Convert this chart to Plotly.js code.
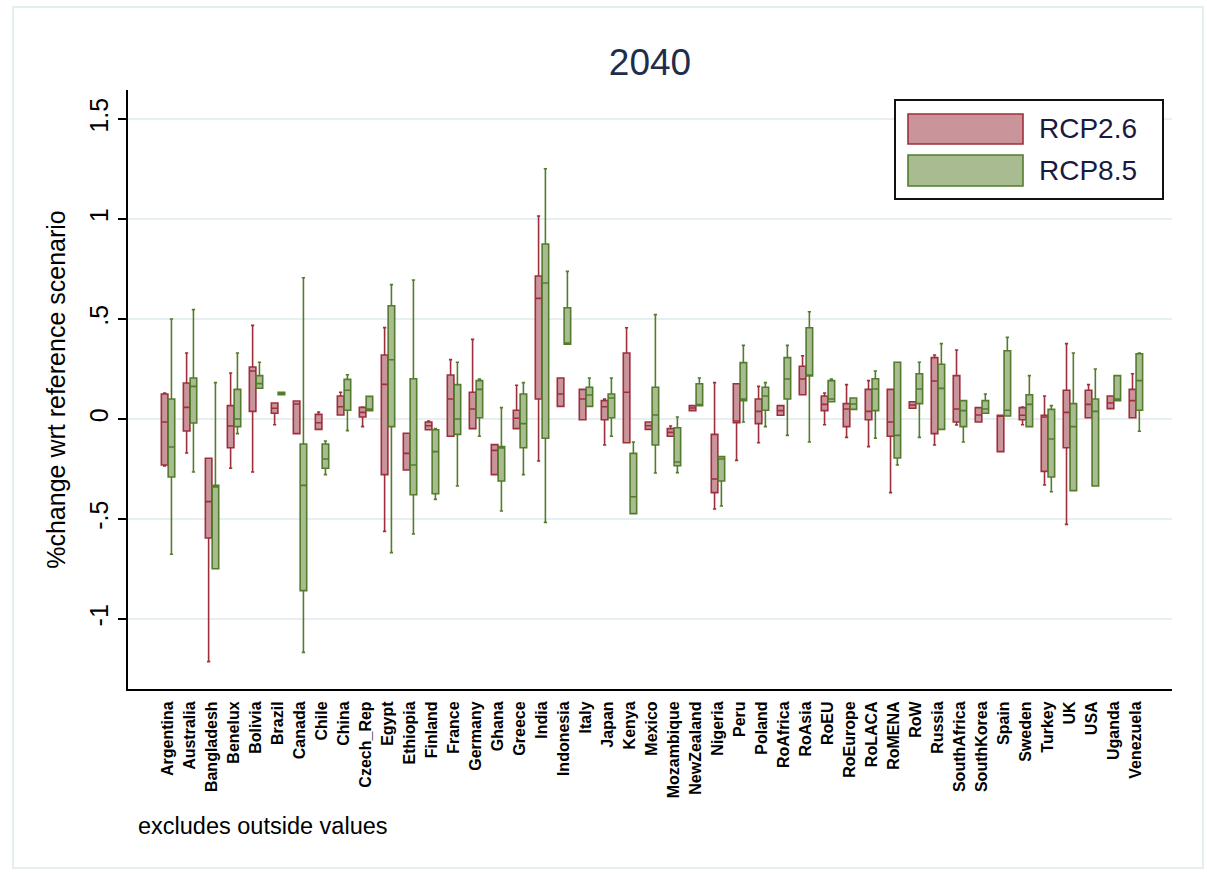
<!DOCTYPE html>
<html>
<head>
<meta charset="utf-8">
<script src="https://cdn.plot.ly/plotly-3.0.1.min.js"></script>
<style>html,body{margin:0;padding:0;background:#fff;}#chart{width:1207px;height:873px;}</style>
</head>
<body>
<div id="chart"></div>
<script>
var countries = ["Argentina","Australia","Bangladesh","Benelux","Bolivia","Brazil","Canada","Chile","China","Czech_Rep","Egypt","Ethiopia","Finland","France","Germany","Ghana","Greece","India","Indonesia","Italy","Japan","Kenya","Mexico","Mozambique","NewZealand","Nigeria","Peru","Poland","RoAfrica","RoAsia","RoEU","RoEurope","RoLACA","RoMENA","RoW","Russia","SouthAfrica","SouthKorea","Spain","Sweden","Turkey","UK","USA","Uganda","Venezuela"];

// RCP2.6
var rcp26_lo  = [-0.235,-0.17,-1.213,-0.246,-0.265,-0.029,-0.073,-0.052,0.02,-0.038,-0.562,-0.255,-0.054,-0.086,-0.048,-0.278,-0.048,-0.21,0.063,-0.004,-0.13,-0.119,-0.052,-0.086,0.042,-0.45,-0.207,-0.119,0.019,0.121,-0.029,-0.092,-0.138,-0.368,0.054,-0.13,-0.03,-0.015,-0.163,-0.029,-0.33,-0.527,0.006,0.052,0.006];
var rcp26_q1  = [-0.23,-0.06,-0.595,-0.144,0.038,0.029,-0.073,-0.052,0.02,0.01,-0.278,-0.255,-0.054,-0.086,-0.048,-0.278,-0.048,0.1,0.063,-0.004,-0.004,-0.119,-0.052,-0.086,0.042,-0.368,-0.019,-0.023,0.019,0.121,0.042,-0.038,-0.004,-0.086,0.054,-0.073,-0.015,-0.015,-0.163,-0.004,-0.262,-0.144,0.006,0.052,0.006];
var rcp26_med = [-0.015,0.058,-0.413,-0.035,0.24,0.054,0.075,-0.019,0.061,0.033,0.173,-0.172,-0.034,0.1,0.05,-0.157,0.004,0.603,0.125,0.1,0.061,0.134,-0.034,-0.067,0.055,-0.3,-0.01,0.038,0.042,0.2,0.073,0.05,0.038,-0.015,0.07,0.19,0.05,0.02,0.015,0.019,0.01,0.033,0.073,0.08,0.092];
var rcp26_q3  = [0.125,0.18,-0.196,0.067,0.26,0.08,0.09,0.023,0.115,0.058,0.32,-0.071,-0.015,0.22,0.134,-0.128,0.044,0.715,0.205,0.148,0.092,0.33,-0.015,-0.048,0.067,-0.077,0.176,0.1,0.067,0.264,0.115,0.077,0.148,0.148,0.086,0.307,0.217,0.057,0.019,0.057,0.019,0.144,0.144,0.115,0.148];
var rcp26_hi  = [0.13,0.33,-0.196,0.23,0.468,0.08,0.09,0.035,0.134,0.06,0.457,-0.071,-0.01,0.297,0.398,-0.128,0.169,1.015,0.205,0.148,0.1,0.456,-0.015,-0.035,0.067,0.182,0.176,0.163,0.067,0.316,0.13,0.172,0.192,0.148,0.086,0.32,0.345,0.057,0.019,0.06,0.115,0.377,0.172,0.115,0.226];

// RCP8.5
var rcp85_lo  = [-0.676,-0.265,-0.749,-0.073,0.154,0.122,-1.167,-0.278,-0.058,0.042,-0.668,-0.575,-0.402,-0.335,-0.086,-0.46,-0.278,-0.517,0.374,0.063,-0.086,-0.473,-0.27,-0.268,0.067,-0.435,-0.015,-0.038,-0.082,-0.115,0.086,0.048,-0.096,-0.23,-0.092,-0.052,-0.115,0.029,0.015,-0.038,-0.364,-0.358,-0.335,0.092,-0.061];
var rcp85_q1  = [-0.29,-0.02,-0.749,-0.038,0.154,0.122,-0.858,-0.246,0.044,0.042,-0.038,-0.379,-0.374,-0.077,0.006,-0.31,-0.144,-0.096,0.374,0.063,0.006,-0.473,-0.13,-0.234,0.067,-0.31,0.092,0.044,0.1,0.215,0.086,0.048,0.042,-0.195,0.077,-0.052,-0.038,0.029,0.015,-0.038,-0.29,-0.358,-0.335,0.092,0.044];
var rcp85_med = [-0.14,0.163,-0.34,0.0,0.177,0.128,-0.332,-0.2,0.144,0.05,0.296,-0.23,-0.163,0.0,0.148,-0.145,-0.023,0.68,0.38,0.12,0.105,-0.389,0.02,-0.215,0.07,-0.2,0.1,0.115,0.2,0.22,0.1,0.075,0.15,-0.082,0.15,0.153,0.042,0.05,0.044,0.073,-0.1,-0.038,0.038,0.1,0.192];
var rcp85_q3  = [0.10,0.205,-0.332,0.148,0.217,0.134,-0.125,-0.125,0.198,0.113,0.566,0.201,-0.054,0.172,0.192,-0.138,0.125,0.875,0.556,0.159,0.125,-0.172,0.159,-0.044,0.176,-0.188,0.282,0.159,0.307,0.456,0.192,0.105,0.201,0.284,0.226,0.274,0.092,0.092,0.341,0.121,0.048,0.077,0.1,0.217,0.326];
var rcp85_hi  = [0.50,0.547,0.182,0.33,0.284,0.134,0.706,-0.11,0.221,0.113,0.672,0.695,-0.048,0.284,0.2,0.057,0.182,1.251,0.738,0.205,0.205,-0.115,0.522,0.01,0.205,-0.188,0.368,0.182,0.368,0.536,0.2,0.105,0.24,0.284,0.284,0.377,0.092,0.125,0.408,0.217,0.067,0.33,0.25,0.217,0.33];

var seriesNames = ["RCP2.6","RCP8.5"];
var tickVals = [-1,-0.5,0,0.5,1,1.5];
var tickText = ["-1","-.5","0",".5","1","1.5"];

var RED_LINE = "#9e2f3d", RED_FILL = "#c9959b";
var GRN_LINE = "#537c2c", GRN_FILL = "#a9bb91";
var FONT = "Liberation Sans, Arial, sans-serif";

function boxTrace(name, lo, q1, med, q3, hi, lineC, fillC) {
  return {
    type: "box", name: name, x: countries,
    lowerfence: lo, q1: q1, median: med, q3: q3, upperfence: hi,
    line: {color: lineC, width: 1.6}, fillcolor: fillC,
    whiskerwidth: 0.5, boxpoints: false, showlegend: false,
    hoverinfo: "all"
  };
}

var data = [
  boxTrace(seriesNames[0], rcp26_lo, rcp26_q1, rcp26_med, rcp26_q3, rcp26_hi, RED_LINE, RED_FILL),
  boxTrace(seriesNames[1], rcp85_lo, rcp85_q1, rcp85_med, rcp85_q3, rcp85_hi, GRN_LINE, GRN_FILL)
];

// plot area: x 128..1172 px, y 90..689 px
var L = 128, R = 1172, T = 90, B = 689;
function px(x){ return (x - L) / (R - L); }
function py(y){ return (B - y) / (B - T); }

var layout = {
  width: 1207, height: 873,
  margin: {l: L, r: 1207 - R, t: T, b: 873 - B, pad: 0},
  paper_bgcolor: "#ffffff", plot_bgcolor: "#ffffff",
  font: {family: FONT, color: "#000"},
  boxmode: "group", boxgap: 0.38, boxgroupgap: 0.04,
  title: {text: "2040", font: {size: 37, color: "#1f2d4d", family: FONT},
          x: px(650), xref: "paper", y: 1 - 62/873, yref: "container", xanchor: "center", yanchor: "middle"},
  xaxis: {
    type: "category", range: [-1.82, 45.64], autorange: false,
    showline: true, linecolor: "#000", linewidth: 2, mirror: false,
    showgrid: false, zeroline: false, ticks: "",
    tickangle: -90, tickfont: {size: 16, color: "#000", family: FONT, weight: "bold"},
    ticklabelstandoff: 4,
    automargin: false
  },
  yaxis: {
    range: [-1.35, 1.645], autorange: false,
    tickvals: tickVals, ticktext: tickText,
    tickangle: -90, tickfont: {size: 25, color: "#000", family: FONT},
    ticks: "outside", ticklen: 8, tickwidth: 1.5, tickcolor: "#000",
    showline: true, linecolor: "#000", linewidth: 2,
    showgrid: true, gridcolor: "#e6eff1", gridwidth: 1.5,
    zeroline: false,
    title: {text: "%change wrt reference scenario", font: {size: 25, color: "#000", family: FONT}, standoff: 12},
    automargin: false
  },
  shapes: [
    {type: "rect", xref: "paper", yref: "paper", x0: px(13), x1: px(1203), y0: py(868), y1: py(7),
     line: {color: "#e4eef0", width: 2}, fillcolor: "rgba(0,0,0,0)", layer: "below"},
    {type: "rect", xref: "paper", yref: "paper", x0: px(895), x1: px(1163), y0: py(199), y1: py(100),
     line: {color: "#111", width: 2}, fillcolor: "#ffffff"},
    {type: "rect", xref: "paper", yref: "paper", x0: px(908), x1: px(1023), y0: py(144), y1: py(114),
     line: {color: RED_LINE, width: 1.6}, fillcolor: RED_FILL},
    {type: "rect", xref: "paper", yref: "paper", x0: px(908), x1: px(1023), y0: py(186), y1: py(155),
     line: {color: GRN_LINE, width: 1.6}, fillcolor: GRN_FILL}
  ],
  annotations: [
    {text: seriesNames[0], xref: "paper", yref: "paper", x: px(1037), y: py(129), xanchor: "left", yanchor: "middle",
     showarrow: false, font: {size: 28, color: "#1a1a40", family: FONT}},
    {text: seriesNames[1], xref: "paper", yref: "paper", x: px(1037), y: py(170), xanchor: "left", yanchor: "middle",
     showarrow: false, font: {size: 28, color: "#1a1a40", family: FONT}},
    {text: "excludes outside values", xref: "paper", yref: "paper", x: px(136), y: py(826), xanchor: "left", yanchor: "middle",
     showarrow: false, font: {size: 23.5, color: "#000", family: FONT}}
  ]
};

Plotly.newPlot("chart", data, layout, {displayModeBar: false, staticPlot: true});
</script>
</body>
</html>
